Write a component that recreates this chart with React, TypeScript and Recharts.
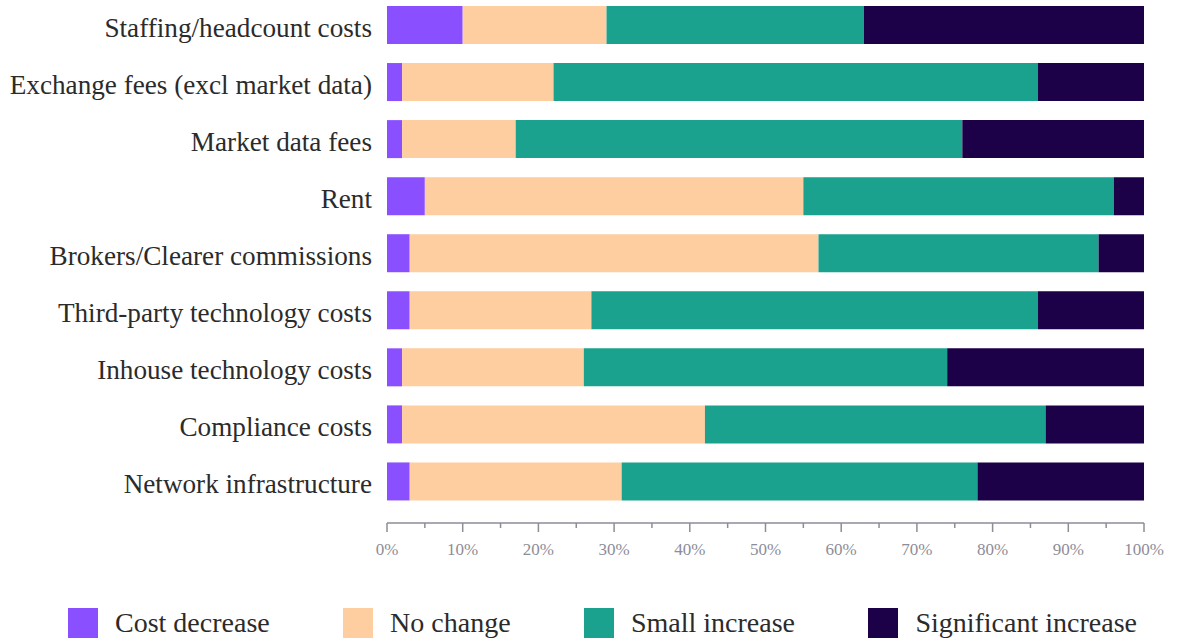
import { Bar, BarChart, Legend, XAxis, YAxis } from 'recharts';

const categories = [
  'Staffing/headcount costs',
  'Exchange fees (excl market data)',
  'Market data fees',
  'Rent',
  'Brokers/Clearer commissions',
  'Third-party technology costs',
  'Inhouse technology costs',
  'Compliance costs',
  'Network infrastructure',
];

const costDecrease = [10, 2, 2, 5, 3, 3, 2, 2, 3];
const noChange = [19, 20, 15, 50, 54, 24, 24, 40, 28];
const smallIncrease = [34, 64, 59, 41, 37, 59, 48, 45, 47];
const significantIncrease = [37, 14, 24, 4, 6, 14, 26, 13, 22];

const pctTicks = [0, 5, 10, 15, 20, 25, 30, 35, 40, 45, 50, 55, 60, 65, 70, 75, 80, 85, 90, 95, 100];

const series = [
  { key: 'decrease', name: 'Cost decrease', color: '#8a4fff', values: costDecrease },
  { key: 'none', name: 'No change', color: '#fecda0', values: noChange },
  { key: 'small', name: 'Small increase', color: '#1aa28f', values: smallIncrease },
  { key: 'significant', name: 'Significant increase', color: '#1c0048', values: significantIncrease },
];

const FONT = '"Liberation Serif", "Times New Roman", serif';
const TEXT = '#2b2b2b';
const AXIS = '#8d8d98';

const data = categories.map((name, i) => {
  const row: Record<string, string | number> = { name };
  series.forEach(s => {
    row[s.key] = s.values[i];
  });
  return row;
});

function CategoryTick({ x, y, payload }: any) {
  return (
    <text x={x - 15} y={y + 12} textAnchor="end" fill={TEXT} fontSize={27.2} fontFamily={FONT}>
      {payload.value}
    </text>
  );
}

function PctTick({ x, y, payload }: any) {
  const major = payload.value % 10 === 0;
  return (
    <g>
      <line x1={x} x2={x} y1={y} y2={y + (major ? 9 : 5)} stroke={AXIS} strokeWidth={1.5} />
      {major && (
        <text x={x} y={y + 32} textAnchor="middle" fill={AXIS} fontSize={17} fontFamily={FONT}>
          {`${payload.value}%`}
        </text>
      )}
    </g>
  );
}

function LegendRow() {
  return (
    <div
      style={{
        display: 'flex',
        justifyContent: 'space-between',
        alignItems: 'center',
        padding: '0 45px 0 68px',
        height: 30,
      }}
    >
      {series.map(s => (
        <div key={s.key} style={{ display: 'flex', alignItems: 'center' }}>
          <span style={{ width: 30, height: 30, background: s.color, display: 'inline-block' }} />
          <span style={{ marginLeft: 17, fontSize: 28, fontFamily: FONT, color: TEXT, lineHeight: '30px' }}>
            {s.name}
          </span>
        </div>
      ))}
    </div>
  );
}

export default function App() {
  return (
    <div style={{ position: 'absolute', left: 0, top: 0 }}>
      <BarChart
        width={1182}
        height={642}
        data={data}
        layout="vertical"
        margin={{ top: -4, right: 38, left: 0, bottom: 49 }}
      >
        <XAxis
          type="number"
          domain={[0, 100]}
          ticks={pctTicks}
          interval={0}
          height={40}
          tickSize={0}
          tickMargin={0}
          tickLine={false}
          axisLine={{ stroke: AXIS, strokeWidth: 1.5 }}
          tick={<PctTick />}
        />
        <YAxis
          type="category"
          dataKey="name"
          width={387}
          tickSize={0}
          tickMargin={0}
          tickLine={false}
          axisLine={false}
          interval={0}
          padding={{ top: 0, bottom: 13.5 }}
          tick={<CategoryTick />}
        />
        <Legend
          verticalAlign="bottom"
          content={() => <LegendRow />}
          wrapperStyle={{ left: 0, width: 1182, bottom: 4 }}
        />
        {series.map(s => (
          <Bar
            key={s.key}
            dataKey={s.key}
            name={s.name}
            stackId="share"
            fill={s.color}
            barSize={38}
            isAnimationActive={false}
          />
        ))}
      </BarChart>
    </div>
  );
}
